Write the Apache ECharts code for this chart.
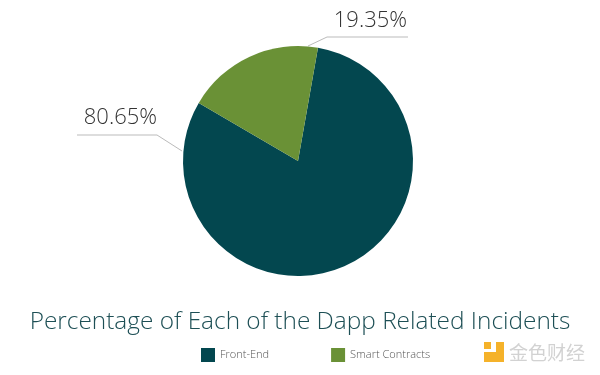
<!DOCTYPE html>
<html><head><meta charset="utf-8">
<script src="https://cdn.jsdelivr.net/npm/echarts@6/dist/echarts.min.js"></script>
<style>html,body{margin:0;padding:0;background:#fff}#c{width:600px;height:375px}</style>
</head><body><div id="c"></div>
<script>
const categories = ['Front-End', 'Smart Contracts'];
const values = [80.65, 19.35];
const colors = ['#03474f', '#6a9136'];

const chart = echarts.init(document.getElementById('c'), null, {renderer: 'canvas'});
const cx = 298, cy = 161, R = 115;
const labelSpec = [
  {text: [157, 129], line: [[182, 151], [157, 135], [77, 135]]},
  {text: [407, 32], line: [[308, 46], [327, 37], [408, 37]]}
];
chart.setOption({
  backgroundColor: '#ffffff',
  animation: false,
  title: {
    text: 'Percentage of Each of the Dapp Related Incidents',
    left: 'center', top: 305,
    textStyle: {fontFamily: 'Open Sans', fontWeight: 300, fontSize: 24.4, color: '#1d4f55'}
  },
  legend: {
    data: categories, bottom: 8, left: 196, itemWidth: 14, itemHeight: 14, itemGap: 62,
    icon: 'rect',
    textStyle: {fontFamily: 'Open Sans', fontWeight: 300, fontSize: 11, color: '#555'}
  },
  series: [{
    type: 'pie',
    center: [cx, cy], radius: R,
    startAngle: 80, clockwise: true,
    data: categories.map((c, i) => ({name: c, value: values[i], itemStyle: {color: colors[i]}})),
    label: {
      show: true,
      formatter: p => p.value.toFixed(2) + '%',
      fontFamily: 'Open Sans', fontWeight: 300, fontSize: 22, color: '#333'
    },
    labelLine: {show: true, lineStyle: {color: '#bbb', width: 1}},
    labelLayout: function (p) {
      const s = labelSpec[p.dataIndex];
      return {x: s.text[0], y: s.text[1], align: 'right', verticalAlign: 'bottom', labelLinePoints: s.line};
    },
    emphasis: {disabled: true}
  }],
  graphic: [
    {type: 'rect', shape: {x: 484, y: 352, width: 20, height: 10}, style: {fill: '#f5b22a'}},
    {type: 'rect', shape: {x: 496, y: 342, width: 8, height: 20}, style: {fill: '#f5b22a'}},
    {type: 'rect', shape: {x: 484, y: 342, width: 7, height: 7}, style: {fill: '#f5b22a'}},
    {type: 'text', left: 509, top: 343, style: {text: '金色财经', fontFamily: 'Noto Sans CJK SC', fontSize: 19, fill: '#d2d2d2'}}
  ]
});
</script></body></html>
